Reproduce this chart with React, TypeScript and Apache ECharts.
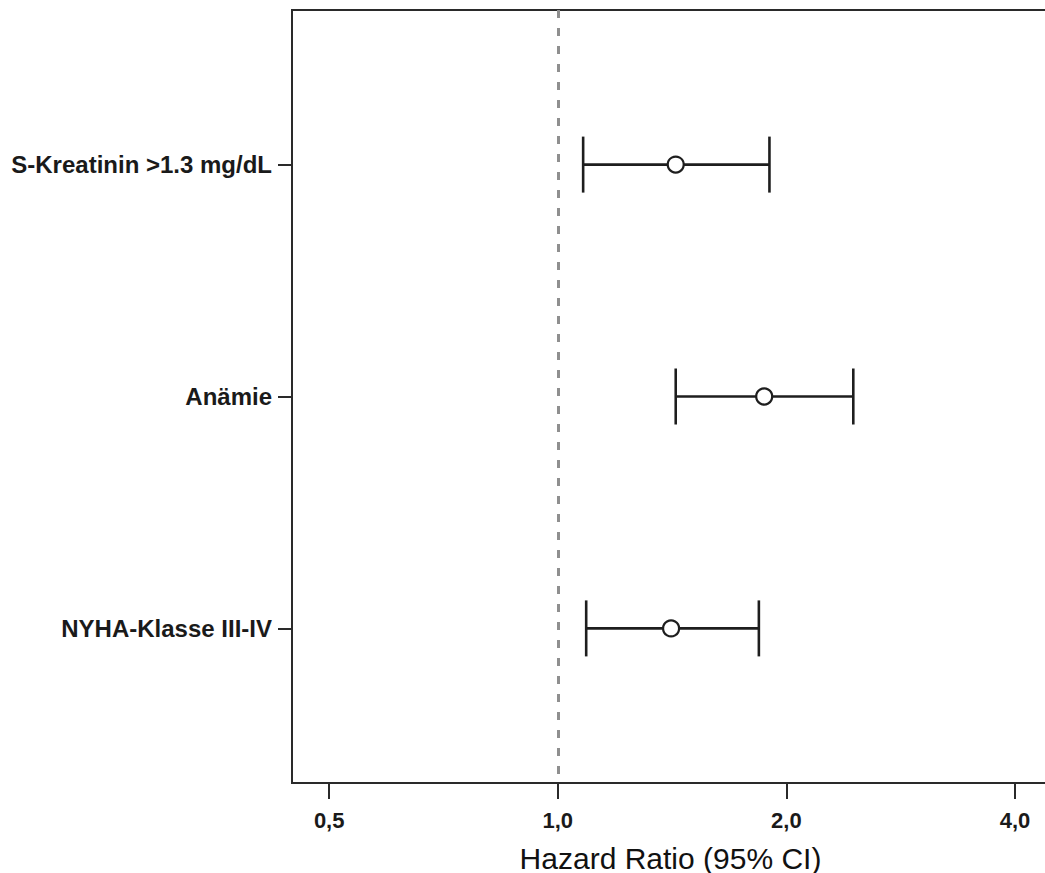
import React, { useEffect, useRef } from "react";
import * as echarts from "echarts";

const categories: string[] = ["S-Kreatinin >1.3 mg/dL", "Anämie", "NYHA-Klasse III-IV"];
const hazardRatio: number[] = [1.43, 1.87, 1.41];
const lowerCI: number[] = [1.08, 1.43, 1.09];
const upperCI: number[] = [1.9, 2.45, 1.84];
const xTicks: number[] = [0.5, 1, 2, 4];
const referenceValue = 1;

const FONT = "Arial, 'Liberation Sans', Helvetica, sans-serif";

export default function App() {
  const ref = useRef<HTMLDivElement>(null);

  useEffect(() => {
    if (!ref.current) return;
    const chart = echarts.init(ref.current, null, { renderer: "svg" });
    const rowValues = categories.map((_, i) => i + 1);
    const ciData = categories.map((_, i) => [lowerCI[i], upperCI[i], i + 1]);
    const pointData = categories.map((_, i) => [hazardRatio[i], i + 1]);

    chart.setOption({
      animation: false,
      backgroundColor: "#ffffff",
      grid: {
        left: 292,
        top: 10,
        right: -4,
        bottom: 90,
        containLabel: false,
        outerBoundsMode: "none",
        show: true,
        borderColor: "#2a2a2a",
        borderWidth: 2,
        backgroundColor: "transparent",
      },
      xAxis: {
        type: "log",
        logBase: 2,
        min: 0.4467,
        max: 4.435,
        name: "Hazard Ratio (95% CI)",
        nameLocation: "middle",
        nameGap: 60,
        nameTextStyle: { fontFamily: FONT, fontSize: 30, color: "#111111", fontWeight: "normal" },
        axisLine: { show: true, lineStyle: { color: "#2a2a2a", width: 2 } },
        axisTick: { show: true, length: 16, inside: false, customValues: xTicks, lineStyle: { color: "#2a2a2a", width: 2 } },
        axisLabel: {
          customValues: xTicks,
          margin: 26,
          fontFamily: FONT,
          fontSize: 22,
          fontWeight: "bold",
          color: "#1a1a1a",
          formatter: (v: number) => v.toFixed(1).replace(".", ","),
        },
        splitLine: { show: false },
        minorTick: { show: false },
      },
      yAxis: {
        type: "value",
        inverse: true,
        min: 1 / 3,
        max: 11 / 3,
        axisLine: { show: true, lineStyle: { color: "#2a2a2a", width: 2 } },
        axisTick: { show: true, length: 14, customValues: rowValues, lineStyle: { color: "#2a2a2a", width: 2 } },
        axisLabel: {
          customValues: rowValues,
          margin: 20,
          fontFamily: FONT,
          fontSize: 24,
          fontWeight: "bold",
          color: "#1a1a1a",
          formatter: (v: number) => categories[Math.round(v) - 1] ?? "",
        },
        splitLine: { show: false },
      },
      series: [
        {
          type: "custom",
          data: ciData,
          z: 3,
          renderItem: (params: any, api: any) => {
            const lo = api.coord([api.value(0), api.value(2)]);
            const hi = api.coord([api.value(1), api.value(2)]);
            const cap = 28;
            const style = { stroke: "#1e1e1e", lineWidth: 2.6, fill: null };
            return {
              type: "group",
              children: [
                { type: "line", shape: { x1: lo[0], y1: lo[1], x2: hi[0], y2: hi[1] }, style },
                { type: "line", shape: { x1: lo[0], y1: lo[1] - cap, x2: lo[0], y2: lo[1] + cap }, style },
                { type: "line", shape: { x1: hi[0], y1: hi[1] - cap, x2: hi[0], y2: hi[1] + cap }, style },
              ],
            };
          },
          markLine: {
            silent: true,
            symbol: "none",
            label: { show: false },
            lineStyle: { color: "#8f8f8f", width: 3, type: [8, 10] },
            data: [{ xAxis: referenceValue }],
          },
        },
        {
          type: "scatter",
          data: pointData,
          z: 4,
          symbol: "circle",
          symbolSize: 16,
          itemStyle: { color: "#ffffff", borderColor: "#1e1e1e", borderWidth: 2.2, opacity: 1 },
        },
      ],
    });

    return () => chart.dispose();
  }, []);

  return (
    <div
      ref={ref}
      style={{ position: "fixed", left: 0, top: 0, width: 1045, height: 873, background: "#fff" }}
    />
  );
}
